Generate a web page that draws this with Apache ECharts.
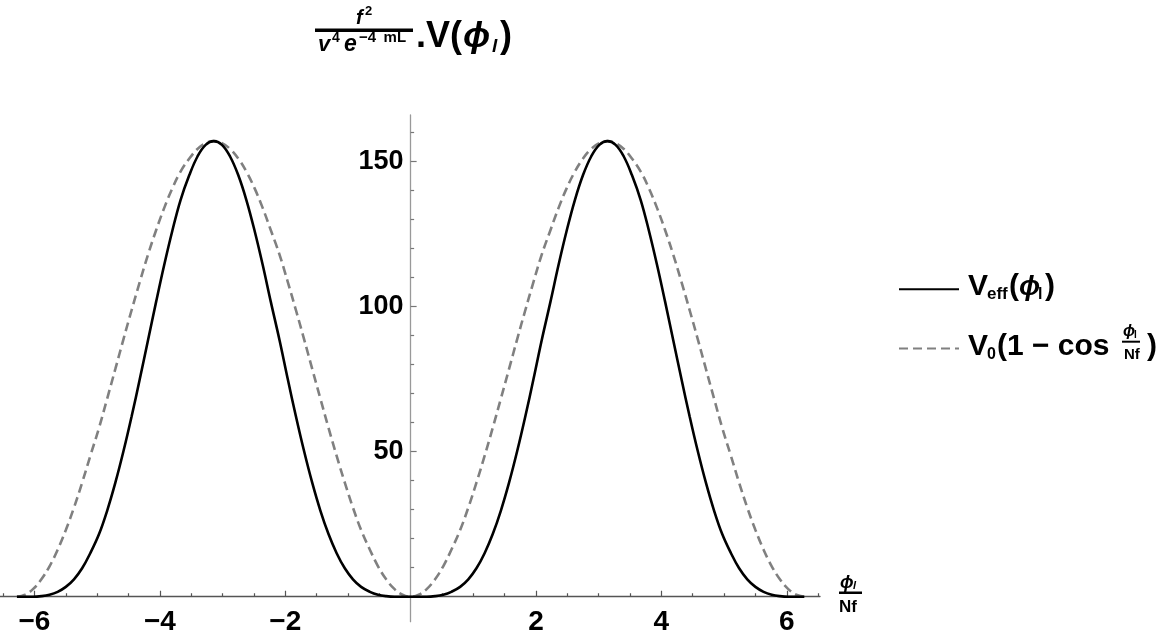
<!DOCTYPE html>
<html><head><meta charset="utf-8">
<script src="https://cdn.jsdelivr.net/npm/echarts@6/dist/echarts.min.js"></script>
<style>html,body{margin:0;padding:0;background:#fff}#c{width:1175px;height:644px}</style>
</head><body><div id="c"></div>
<script>
// x positions (phi_l / Nf)
const xs = [-6.28,-6.15,-6.02,-5.89,-5.76,-5.63,-5.5,-5.37,-5.24,-5.11,-4.97,-4.84,-4.71,-4.58,-4.45,-4.32,-4.19,-4.06,-3.93,-3.8,-3.67,-3.53,-3.4,-3.27,
            -3.14,-3.01,-2.88,-2.75,-2.62,-2.49,-2.36,-2.23,-2.09,-1.96,-1.83,-1.7,-1.57,-1.44,-1.31,-1.18,-1.05,-0.92,-0.79,-0.65,-0.52,-0.39,-0.26,-0.13,
            0,
            0.13,0.26,0.39,0.52,0.65,0.79,0.92,1.05,1.18,1.31,1.44,1.57,1.7,1.83,1.96,2.09,2.23,2.36,2.49,2.62,2.75,2.88,3.01,3.14,
            3.27,3.4,3.53,3.67,3.8,3.93,4.06,4.19,4.32,4.45,4.58,4.71,4.84,4.97,5.11,5.24,5.37,5.5,5.63,5.76,5.89,6.02,6.15,6.28];
// V_eff (solid black)
const veff = [0,0,0,0.2,0.7,1.7,3.4,6,9.8,15,21.6,29.7,39.3,50.2,62.2,75,88.3,101.6,114.4,126.2,136.7,145.3,151.7,155.7,
              157,155.7,151.7,145.3,136.7,126.2,114.4,101.6,88.3,75,62.2,50.2,39.3,29.7,21.6,15,9.8,6,3.4,1.7,0.7,0.2,0,0,
              0,
              0,0,0.2,0.7,1.7,3.4,6,9.8,15,21.6,29.7,39.3,50.2,62.2,75,88.3,101.6,114.4,126.2,136.7,145.3,151.7,155.7,157,
              155.7,151.7,145.3,136.7,126.2,114.4,101.6,88.3,75,62.2,50.2,39.3,29.7,21.6,15,9.8,6,3.4,1.7,0.7,0.2,0,0,0];
// V0(1 - cos) (dashed gray)
const v0 = [0,0.7,2.7,6,10.5,16.2,23,30.7,39.3,48.5,58.2,68.3,78.5,88.8,98.8,108.5,117.8,126.3,134,140.8,146.5,151,154.3,156.3,
            157,156.3,154.3,151,146.5,140.8,134,126.3,117.8,108.5,98.8,88.8,78.5,68.3,58.2,48.5,39.3,30.7,23,16.2,10.5,6,2.7,0.7,
            0,
            0.7,2.7,6,10.5,16.2,23,30.7,39.3,48.5,58.2,68.3,78.5,88.8,98.8,108.5,117.8,126.3,134,140.8,146.5,151,154.3,156.3,157,
            156.3,154.3,151,146.5,140.8,134,126.3,117.8,108.5,98.8,88.8,78.5,68.3,58.2,48.5,39.3,30.7,23,16.2,10.5,6,2.7,0.7,0];
const xMajor = [-6,-4,-2,2,4,6];
const xMinor = [-6.5,-5.5,-5,-4.5,-3.5,-3,-2.5,-1.5,-1,-0.5,0.5,1,1.5,2.5,3,3.5,4.5,5,5.5,6.5];
const yMajor = [50,100,150];
const yMinor = [10,20,30,40,60,70,80,90,110,120,130,140,160];
const seriesNames = ['Veff', 'V0'];

const FF = "'Liberation Sans', Arial, sans-serif";
const X_MIN = -6.55, X_MAX = 6.53, Y_MIN = -8.6, Y_MAX = 166;
const gridRect = {left: 0, width: 820, top: 115, bottom: 22.3, containLabel: false, outerBoundsMode: 'none'};

function T(x, base, text, fs, italic, color) {
  return {type: 'text', x: x, y: base - 0.347 * fs, z: 100,
    style: {text: text, font: (italic ? 'italic ' : '') + 'bold ' + fs + 'px ' + FF,
      fill: color || '#000', align: 'left', verticalAlign: 'middle'}};
}
function R(x, y, w, h) {
  return {type: 'rect', z: 100, shape: {x: x, y: y, width: w, height: h}, style: {fill: '#000'}};
}

const chart = echarts.init(document.getElementById('c'), null, {renderer: 'canvas'});
const pairs = arr => xs.map((x, i) => [x, arr[i]]);
const minus = v => (v < 0 ? '\u2212' : '') + Math.abs(v);

chart.setOption({
  animation: false,
  backgroundColor: '#fff',
  grid: [Object.assign({}, gridRect), Object.assign({}, gridRect)],
  xAxis: [{
    type: 'value', gridIndex: 0, min: X_MIN, max: X_MAX, position: 'bottom', offset: 0,
    splitLine: {show: false},
    axisLine: {onZero: false, lineStyle: {color: '#555', width: 1.3}},
    axisTick: {customValues: xMajor, inside: true, length: 6, lineStyle: {color: '#555', width: 1.2}},
    axisLabel: {customValues: xMajor, formatter: minus, margin: 12, color: '#000',
      fontFamily: FF, fontWeight: 'bold', fontSize: 28}
  }, {
    type: 'value', gridIndex: 1, min: X_MIN, max: X_MAX,
    splitLine: {show: false},
    axisLine: {show: false, onZero: true},
    axisTick: {customValues: xMinor, inside: true, length: 3.5, lineStyle: {color: '#555', width: 1.2}},
    axisLabel: {show: false}
  }],
  yAxis: [{
    type: 'value', gridIndex: 0, min: Y_MIN, max: Y_MAX, position: 'left', offset: 0,
    splitLine: {show: false},
    axisLine: {onZero: false, lineStyle: {color: '#999', width: 1.3}},
    axisTick: {customValues: yMajor, inside: true, length: 6, lineStyle: {color: '#777', width: 1.2}},
    axisLabel: {customValues: yMajor, margin: 7, color: '#000',
      fontFamily: FF, fontWeight: 'bold', fontSize: 27}
  }, {
    type: 'value', gridIndex: 1, min: Y_MIN, max: Y_MAX,
    splitLine: {show: false},
    axisLine: {show: false, onZero: true},
    axisTick: {customValues: yMinor, inside: true, length: 3.5, lineStyle: {color: '#777', width: 1.2}},
    axisLabel: {show: false}
  }],
  legend: {
    orient: 'vertical', left: 893, top: 277.3, itemWidth: 60, itemHeight: 14, itemGap: 46.7,
    selectedMode: false, formatter: () => '', data: seriesNames,
    itemStyle: {opacity: 0}
  },
  series: [{
    name: seriesNames[0], type: 'line', xAxisIndex: 0, yAxisIndex: 0,
    data: pairs(veff), smooth: 0.4, symbol: 'none',
    lineStyle: {color: '#000', width: 2.6}, itemStyle: {color: '#000'}, z: 3
  }, {
    name: seriesNames[1], type: 'line', xAxisIndex: 0, yAxisIndex: 0,
    data: pairs(v0), smooth: 0.4, symbol: 'none',
    lineStyle: {color: '#808080', width: 2.6, type: [9, 5]}, itemStyle: {color: '#808080'}, z: 2
  }],
  graphic: [
    // title: f^2 / (v^4 e^{-4 mL}) . V(phi_l)
    T(356, 25, 'f', 20, true),
    T(365, 16, '2', 13, false),
    R(315, 28.5, 98, 3.5),
    T(318, 53, 'v', 22, true),
    T(332, 43, '4', 14, false),
    T(344, 53, 'e', 23, true),
    T(359, 43, '\u22124\u2002mL', 15, false),
    T(416, 50, '.V(', 36, false),
    T(463, 50, '\u03D5', 36, true),
    T(492, 53, 'l', 19, true),
    T(500, 50, ')', 36, false),
    // legend labels
    T(968, 296.7, 'V', 30, false),
    T(987, 300, 'eff', 17, false),
    T(1009, 296.7, '(', 30, false),
    T(1019, 296.7, '\u03D5', 28, true),
    T(1038, 300, 'l', 16, false),
    T(1045, 296.7, ')', 30, false),
    T(968, 356.7, 'V', 30, false),
    T(987, 360, '0', 16, false),
    T(997, 356.7, '(1 \u2212 cos', 30, false),
    T(1123, 337, '\u03D5', 16, true),
    T(1134, 339, 'l', 10, false),
    R(1122, 340.7, 18, 2),
    T(1124, 360, 'Nf', 15, false),
    T(1147, 356.7, ')', 30, false),
    // x axis name
    T(840, 589, '\u03D5', 18, true),
    T(853, 590, 'l', 11, true),
    R(839, 591.5, 23, 2.5),
    T(839, 613, 'Nf', 17, false)
  ]
});

// Move the main axes (line, ticks and labels together) onto the zero lines of the other axis.
const rect = chart.getModel().getComponent('grid', 0).coordinateSystem.getRect();
const zero = chart.convertToPixel({gridIndex: 0}, [0, 0]);
chart.setOption({
  xAxis: [{offset: zero[1] - (rect.y + rect.height)}, {}],
  yAxis: [{offset: rect.x - zero[0]}, {}]
});
</script></body></html>
